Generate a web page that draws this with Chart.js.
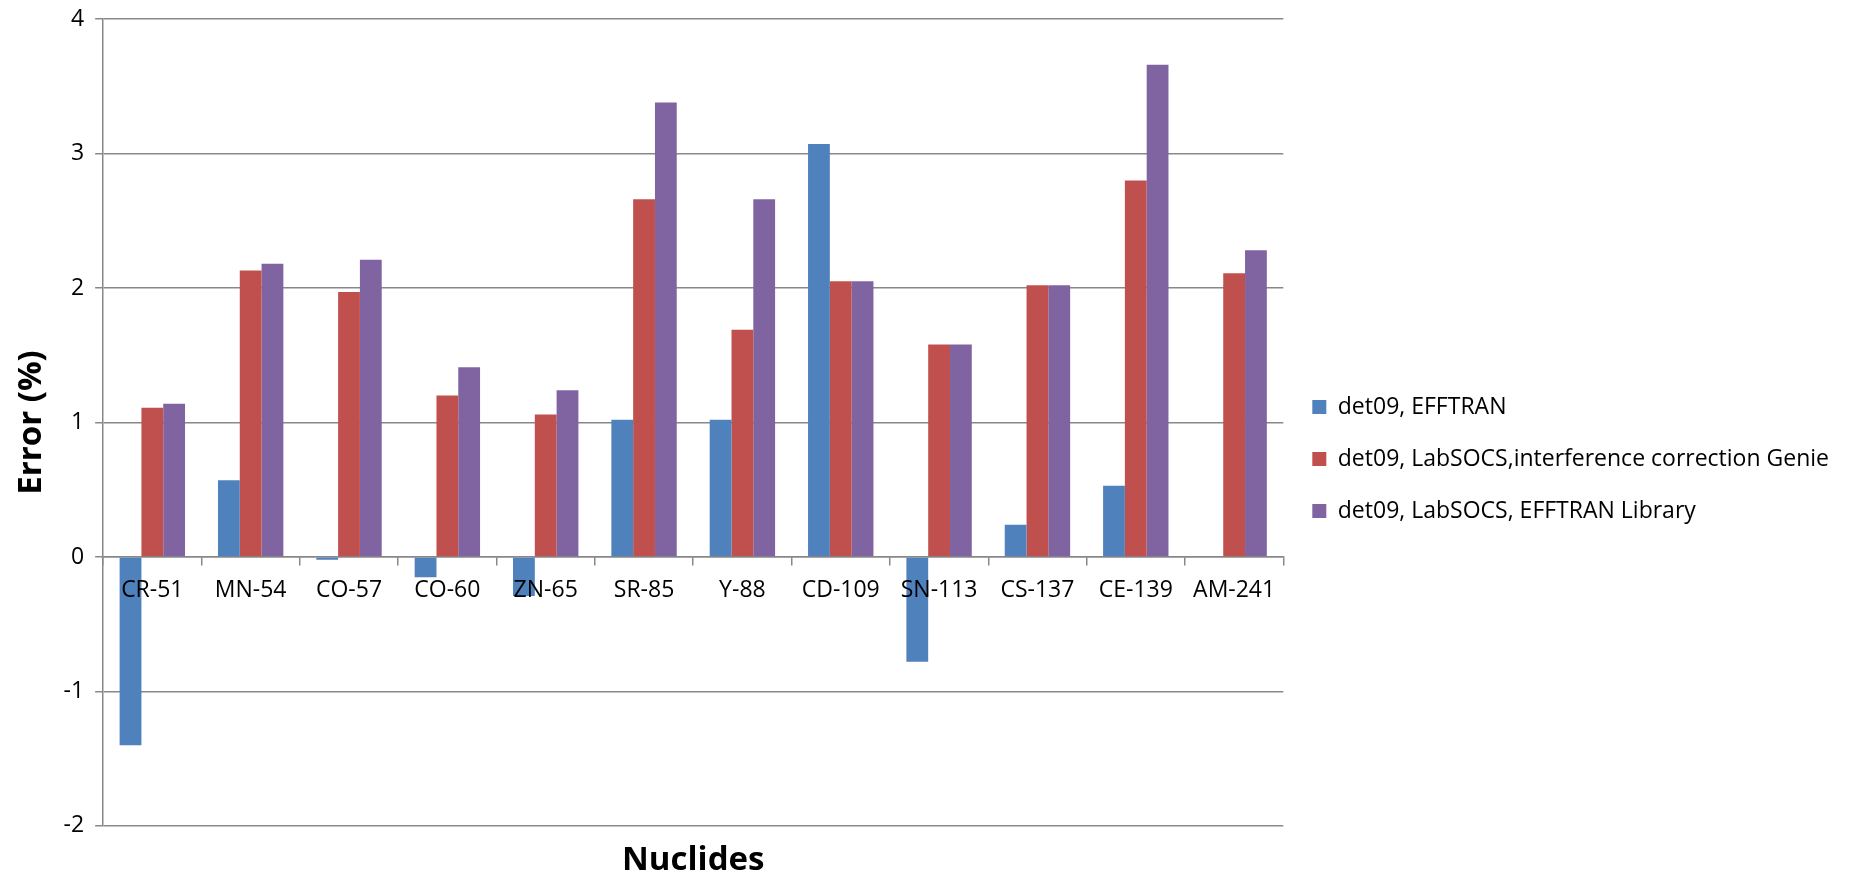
<!DOCTYPE html>
<html>
<head>
<meta charset="utf-8">
<title>Error by nuclide</title>
<script src="https://cdn.jsdelivr.net/npm/chart.js@4"></script>
<style>
  html, body { margin: 0; padding: 0; background: #ffffff; }
  #wrap { width: 1857px; height: 875px; position: relative; }
</style>
</head>
<body>
<div id="wrap"><canvas id="chart" width="1857" height="875"></canvas></div>
<script>
// Nuclides on the category axis
const categories = ['CR-51', 'MN-54', 'CO-57', 'CO-60', 'ZN-65', 'SR-85', 'Y-88', 'CD-109', 'SN-113', 'CS-137', 'CE-139', 'AM-241'];

// Error (%) per nuclide for each method
const efftran = [-1.40, 0.57, -0.02, -0.15, -0.29, 1.02, 1.02, 3.07, -0.78, 0.24, 0.53, 0];
const labsocsGenie = [1.11, 2.13, 1.97, 1.20, 1.06, 2.66, 1.69, 2.05, 1.58, 2.02, 2.80, 2.11];
const labsocsLibrary = [1.14, 2.18, 2.21, 1.41, 1.24, 3.38, 2.66, 2.05, 1.58, 2.02, 3.66, 2.28];

const seriesNames = ['det09, EFFTRAN', 'det09, LabSOCS,interference correction Genie', 'det09, LabSOCS, EFFTRAN Library'];

// Value-axis ticks
const yTicks = [-2, -1, 0, 1, 2, 3, 4];

const gridGray = '#888888';
const tickFont = { family: 'Open Sans', size: 23 };
const yTitleFont = { family: 'Open Sans', size: 33, weight: 'bold' };
const xTitleFont = { family: 'Open Sans', size: 33, weight: 'bold', lineHeight: 0.85 };

// let the plot area use the layout padding only, without room reserved for edge labels
const noEdgePadding = (scale) => {
  scale.paddingTop = 0;
  scale.paddingBottom = 0;
  scale.paddingLeft = 0;
  scale.paddingRight = 0;
};

new Chart(document.getElementById('chart'), {
  type: 'bar',
  data: {
    labels: categories,
    datasets: [
      { label: seriesNames[0], data: efftran, backgroundColor: '#4F81BD' },
      { label: seriesNames[1], data: labsocsGenie, backgroundColor: '#C0504D' },
      { label: seriesNames[2], data: labsocsLibrary, backgroundColor: '#8064A2' }
    ]
  },
  options: {
    responsive: false,
    animation: false,
    events: [],
    datasets: { bar: { barPercentage: 1.0, categoryPercentage: 0.665, borderWidth: 0 } },
    layout: { padding: { top: 19, right: 18, bottom: 0, left: 11 } },
    scales: {
      x: {
        // category axis crosses the value axis at zero
        position: { y: 0 },
        offset: true,
        afterFit: noEdgePadding,
        grid: {
          offset: true,
          drawOnChartArea: false,
          drawTicks: true,
          tickLength: 8,
          color: gridGray,
          lineWidth: 1.5
        },
        border: { display: true, color: gridGray, width: 1.5 },
        ticks: { z: 1, color: '#000000', font: tickFont, padding: 12, maxRotation: 0, autoSkip: false }
      },
      y: {
        min: yTicks[0],
        max: yTicks[yTicks.length - 1],
        afterBuildTicks: (scale) => { scale.ticks = yTicks.map(v => ({ value: v })); },
        afterFit: noEdgePadding,
        grid: { color: gridGray, lineWidth: 1.5, tickLength: 8, drawTicks: true },
        border: { display: true, color: gridGray, width: 1.5 },
        ticks: { color: '#000000', font: tickFont, padding: 11 },
        title: {
          display: true,
          text: 'Error (%)',
          color: '#000000',
          font: yTitleFont,
          padding: { top: 1, bottom: 1 }
        }
      }
    },
    plugins: {
      legend: {
        position: 'right',
        align: 'center',
        maxWidth: 800,
        title: { display: true, text: '', font: { size: 12 }, padding: 4.8 },
        labels: {
          boxWidth: 14,
          boxHeight: 14,
          padding: 29,
          color: '#000000',
          font: tickFont
        }
      },
      title: {
        display: true,
        position: 'bottom',
        fullSize: false,
        text: 'Nuclides',
        color: '#000000',
        font: xTitleFont,
        padding: { top: 21, bottom: 0 }
      },
      tooltip: { enabled: false }
    }
  }
});
</script>
</body>
</html>
